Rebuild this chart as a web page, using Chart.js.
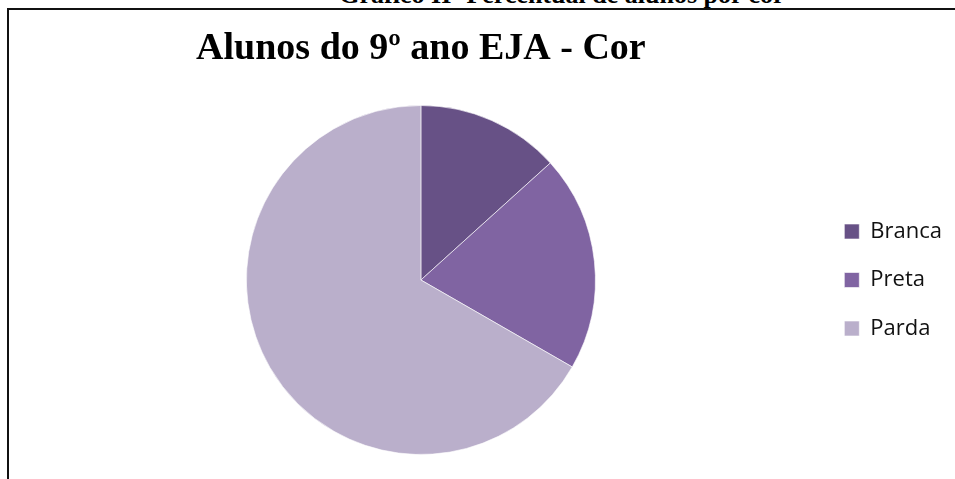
<!DOCTYPE html>
<html>
<head>
<meta charset="utf-8">
<title>Alunos do 9º ano EJA - Cor</title>
<script src="https://cdn.jsdelivr.net/npm/chart.js@4/dist/chart.umd.min.js"></script>
<style>
    html, body { margin: 0; padding: 0; background: #fff; overflow: hidden; }
    #page { position: relative; width: 955px; height: 479px; }
    #outerTitle {
        position: absolute; left: 0; width: 1124px; top: -20px;
        text-align: center;
        font: bold 26px "Liberation Serif", "Times New Roman", serif;
        line-height: 30px; color: #000;
    }
    #frame {
        position: absolute; left: 7px; top: 8px; width: 960px; height: 480px;
        border-left: 2px solid #111; border-top: 2px solid #111;
    }
    #pieCor { position: absolute; left: 0; top: 0; }
</style>
</head>
<body>
<div id="page">
    <div id="outerTitle">Gráfico II- Percentual de alunos por cor</div>
    <div id="frame"></div>
    <canvas id="pieCor" width="955" height="479"></canvas>
</div>
<script>
// data (percent of students)
var chartTitle = 'Alunos do 9º ano EJA - Cor';
var setLabels = ['Branca', 'Preta', 'Parda'];
var setSeries = [13.3, 20, 66.7];
var setColors = ['#675186', '#8064A2', '#BAAFCB'];

var optionsPieCor = {
    responsive: false,
    animation: false,
    layout: {
        padding: { left: 24, right: 3, top: 0, bottom: 24 }
    },
    plugins: {
        title: {
            display: true,
            text: chartTitle,
            fullSize: false,
            color: '#000',
            font: { family: '"Liberation Serif", "Times New Roman", serif', size: 38, weight: 'bold', lineHeight: 1.2 },
            padding: { top: 26.2, bottom: 33.2 }
        },
        legend: {
            position: 'right',
            fullSize: false,
            labels: {
                boxWidth: 15,
                boxHeight: 15,
                padding: 26.5,
                color: '#111',
                font: { family: '"Open Sans", sans-serif', size: 22 }
            }
        },
        tooltip: { enabled: false }
    }
};

var ctxp = document.getElementById('pieCor').getContext('2d');
var chartPieCor = new Chart(ctxp, {
    type: 'pie',
    options: optionsPieCor,
    data: {
        labels: setLabels,
        datasets: [
            {
                data: setSeries,
                backgroundColor: setColors,
                borderColor: 'rgba(255,255,255,0.6)',
                borderWidth: 1
            }
        ]
    }
});
</script>
</body>
</html>
